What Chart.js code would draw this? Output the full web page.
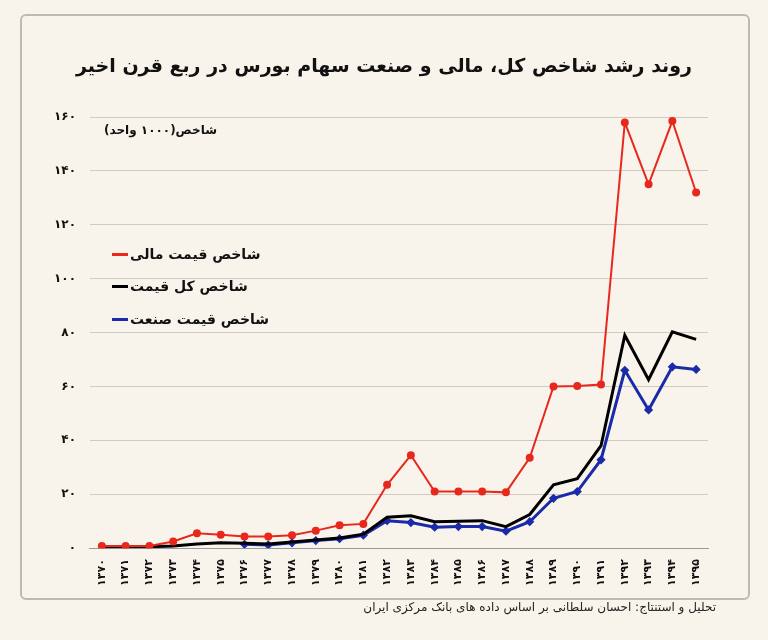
<!DOCTYPE html>
<html><head><meta charset="utf-8">
<script src="https://cdn.jsdelivr.net/npm/chart.js@4"></script>
<style>
html,body{margin:0;padding:0;background:#c9c6c0;}
#wrap{position:relative;width:768px;height:640px;background:#f8f4ec;overflow:hidden}
#frame{position:absolute;left:20px;top:14px;width:726px;height:582px;border:2px solid #bdbab4;border-radius:6px}
#title{position:absolute;top:54px;left:0;width:768px;text-align:center;font:bold 19px "DejaVu Sans";color:#111;direction:rtl}
#ylab{position:absolute;left:104px;top:123px;font:bold 12px "DejaVu Sans";direction:rtl;color:#111}
.lg{position:absolute;left:112px;font:bold 14px "DejaVu Sans";display:flex;align-items:center;gap:2px;color:#111}
.lg span.t{direction:rtl}
.mk{display:inline-block;width:16px;height:3px}
#src{position:absolute;right:52px;top:600px;font:12px "DejaVu Sans";direction:rtl;color:#222}
canvas{position:absolute;left:0;top:0}
</style></head><body>
<div id="wrap">
<div id="frame"></div>
<canvas id="c" width="768" height="640"></canvas>
<div id="title">روند رشد شاخص کل، مالی و صنعت سهام بورس در ربع قرن اخیر</div>
<div id="ylab">شاخص(۱۰۰۰ واحد)</div>
<div class="lg" style="top:246px"><span class="mk" style="background:#e8281c"></span><span class="t">شاخص قیمت مالی</span></div>
<div class="lg" style="top:278px"><span class="mk" style="background:#000"></span><span class="t">شاخص کل قیمت</span></div>
<div class="lg" style="top:311px"><span class="mk" style="background:#1a2aa8"></span><span class="t">شاخص قیمت صنعت</span></div>
<div id="src">تحلیل و استنتاج: احسان سلطانی بر اساس داده های بانک مرکزی ایران</div>
</div>
<script>
const years = ["۱۳۷۰","۱۳۷۱","۱۳۷۲","۱۳۷۳","۱۳۷۴","۱۳۷۵","۱۳۷۶","۱۳۷۷","۱۳۷۸","۱۳۷۹","۱۳۸۰","۱۳۸۱","۱۳۸۲","۱۳۸۳","۱۳۸۴","۱۳۸۵","۱۳۸۶","۱۳۸۷","۱۳۸۸","۱۳۸۹","۱۳۹۰","۱۳۹۱","۱۳۹۲","۱۳۹۳","۱۳۹۴","۱۳۹۵"];
const financial = [0.8,0.8,0.8,2.5,5.5,5,4.3,4.3,4.8,6.5,8.5,9,23.5,34.5,21,21,21,20.7,33.5,60,60.2,60.7,158,135,158.5,132];
const total = [0.5,0.5,0.5,0.8,1.5,2,1.8,1.5,2.3,3,3.8,5.2,11.5,12,9.8,10,10.2,8,12.5,23.5,25.8,38,79,62.5,80.3,77.5];
const industry = [null,null,null,null,null,null,1.4,1.2,2,2.8,3.5,4.8,10.2,9.5,7.8,8,8,6.3,9.8,18.5,21,32.8,66,51.3,67.3,66.3];
const yTicks = {0:"۰",20:"۲۰",40:"۴۰",60:"۶۰",80:"۸۰",100:"۱۰۰",120:"۱۲۰",140:"۱۴۰",160:"۱۶۰"};
new Chart(document.getElementById('c'),{
 type:'line',
 data:{labels:years,datasets:[
  {data:financial,borderColor:'#e8281c',backgroundColor:'#e8281c',borderWidth:2,pointRadius:3,tension:0},
  {data:total,borderColor:'#000',borderWidth:3,pointRadius:0,tension:0},
  {data:industry,borderColor:'#1a2aa8',backgroundColor:'#1a2aa8',borderWidth:3,pointRadius:2.5,pointStyle:'rectRot',tension:0}
 ]},
 options:{responsive:false,animation:false,
  layout:{padding:{left:40,right:60,top:117,bottom:51}},
  plugins:{legend:{display:false},tooltip:{enabled:false}},
  scales:{
   x:{offset:true,grid:{display:false,drawTicks:true},border:{color:'#999'},
      ticks:{maxRotation:90,minRotation:90,autoSkip:false,color:'#111',font:{family:'DejaVu Sans',size:11,weight:'bold'}}},
   y:{min:0,max:160,grid:{color:'#cfcbc4',drawTicks:false},border:{display:false},
      ticks:{stepSize:20,padding:14,color:'#111',font:{family:'DejaVu Sans',size:12,weight:'bold'},callback:v=>yTicks[v]}}
  }}
});
</script>
</body></html>
